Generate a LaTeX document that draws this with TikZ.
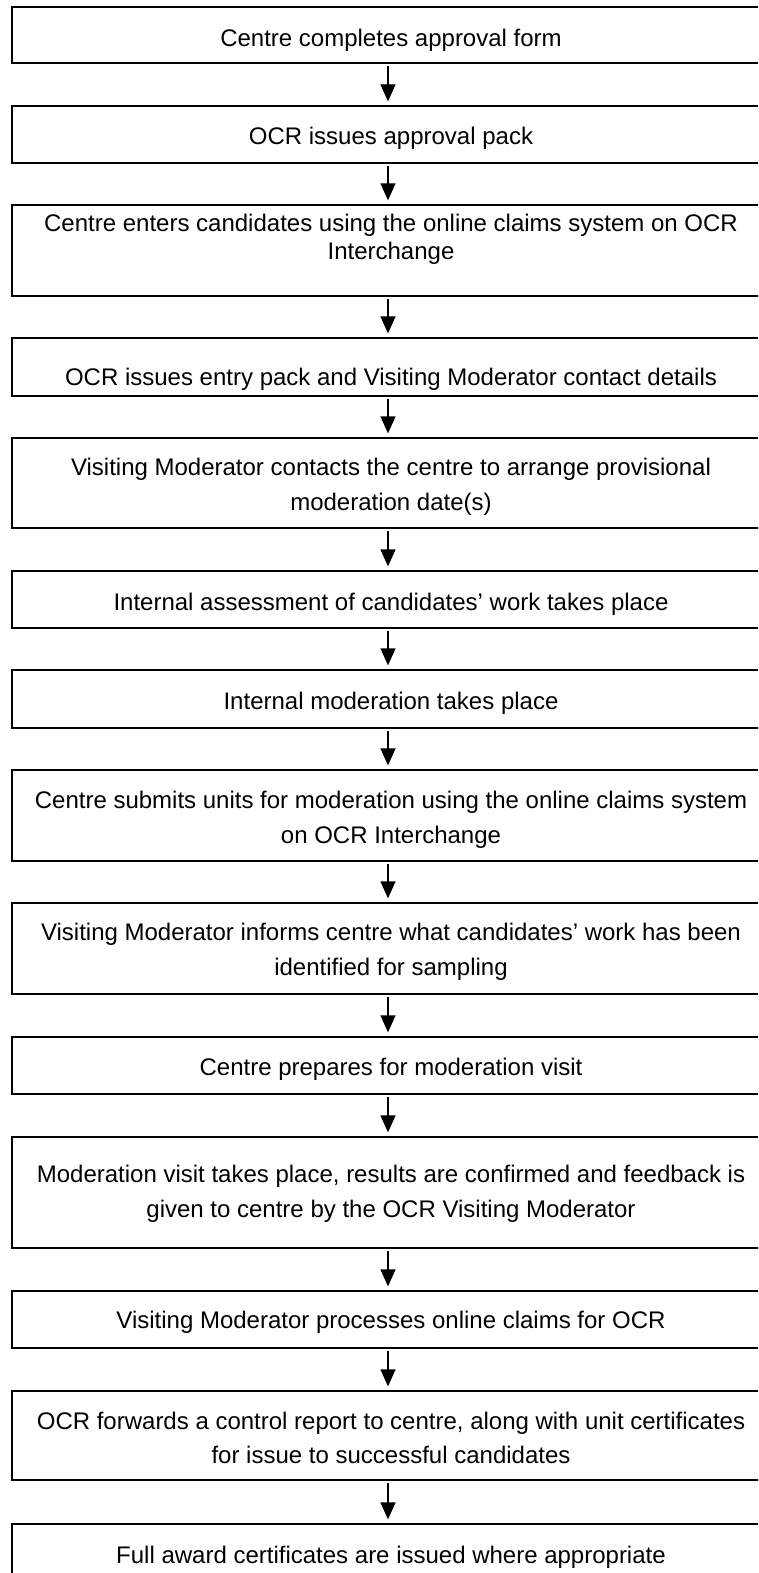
\documentclass[tikz,border=0pt]{standalone}
\usepackage{fontspec}
\setmainfont{Liberation Sans}
\usetikzlibrary{arrows.meta}
\tikzset{
  stepbox/.style={draw=black, line width=1.3pt, rectangle, inner sep=0pt, minimum width=758pt},
  txt/.style={anchor=base, inner sep=0pt, font=\fontsize{24}{28}\selectfont},
  arr/.style={line width=1.3pt, -{Triangle[width=15pt,length=17pt]}, shorten <=2pt, shorten >=4pt}
}
\begin{document}
\begin{tikzpicture}[x=1pt,y=-1pt]
\useasboundingbox (0,0) rectangle (758,1573);
\fill[white] (0,0) rectangle (758,1573);
\begin{scope}
\clip (0,0) rectangle (758,1573);
% boxes: centre x = 391, given top/bottom
\node[stepbox, minimum height=56pt] (b1) at (391,35) {};
\node[stepbox, minimum height=57pt] (b2) at (391,134.5) {};
\node[stepbox, minimum height=91pt] (b3) at (391,250.5) {};
\node[stepbox, minimum height=58pt] (b4) at (391,367) {};
\node[stepbox, minimum height=90pt] (b5) at (391,483) {};
\node[stepbox, minimum height=57pt] (b6) at (391,599.5) {};
\node[stepbox, minimum height=58pt] (b7) at (391,699) {};
\node[stepbox, minimum height=91pt] (b8) at (391,815.5) {};
\node[stepbox, minimum height=91pt] (b9) at (391,948.5) {};
\node[stepbox, minimum height=57pt] (b10) at (391,1065.5) {};
\node[stepbox, minimum height=111pt] (b11) at (391,1192.5) {};
\node[stepbox, minimum height=57pt] (b12) at (391,1319.5) {};
\node[stepbox, minimum height=89pt] (b13) at (391,1435.5) {};
\node[stepbox, minimum height=57pt] (b14) at (391,1552.5) {};

% texts
\node[txt] (t1) at (391,46.5) {Centre completes approval form};
\node[txt] (t2) at (391,145) {OCR issues approval pack};
\node[txt] (t3a) at (391,231) {Centre enters candidates using the online claims system on OCR};
\node[txt] (t3b) at (391,259) {Interchange};
\node[txt] (t4) at (391,385) {OCR issues entry pack and Visiting Moderator contact details};
\node[txt] (t5a) at (391,475) {Visiting Moderator contacts the centre to arrange provisional};
\node[txt] (t5b) at (391,510) {moderation date(s)};
\node[txt] (t6) at (391,610) {Internal assessment of candidates’ work takes place};
\node[txt] (t7) at (391,709) {Internal moderation takes place};
\node[txt] (t8a) at (391,808) {Centre submits units for moderation using the online claims system};
\node[txt] (t8b) at (391,843) {on OCR Interchange};
\node[txt] (t9a) at (391,940) {Visiting Moderator informs centre what candidates’ work has been};
\node[txt] (t9b) at (391,975) {identified for sampling};
\node[txt] (t10) at (391,1075) {Centre prepares for moderation visit};
\node[txt] (t11a) at (391,1182) {Moderation visit takes place, results are confirmed and feedback is};
\node[txt] (t11b) at (391,1217) {given to centre by the OCR Visiting Moderator};
\node[txt] (t12) at (391,1328) {Visiting Moderator processes online claims for OCR};
\node[txt] (t13a) at (391,1429) {OCR forwards a control report to centre, along with unit certificates};
\node[txt] (t13b) at (391,1463) {for issue to successful candidates};
\node[txt] (t14) at (391,1563) {Full award certificates are issued where appropriate};

% arrows
\coordinate (ax) at (388,0);
\foreach \a/\b in {b1/b2,b2/b3,b3/b4,b4/b5,b5/b6,b6/b7,b7/b8,b8/b9,b9/b10,b10/b11,b11/b12,b12/b13,b13/b14}{
  \draw[arr] (\a.south -| ax) -- (\b.north -| ax);
}
\end{scope}
\end{tikzpicture}
\end{document}
